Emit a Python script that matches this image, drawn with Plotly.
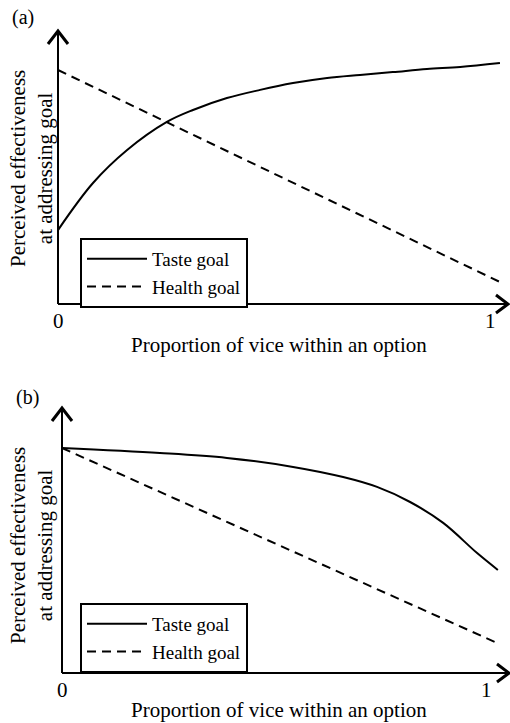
import plotly.graph_objects as go

# ---- data ----
tick_vals = [0, 1]
tick_text = ["0", "1"]

# Panel (a)
a_taste_x = [0.0, 0.081, 0.160, 0.252, 0.3125, 0.391, 0.468, 0.544, 0.623, 0.699, 0.775, 0.854, 0.931, 1.023]
a_taste_y = [0.316, 0.517, 0.658, 0.778, 0.829, 0.880, 0.915, 0.944, 0.966, 0.979, 0.991, 1.004, 1.013, 1.030]
a_health_x = [0.0, 1.023]
a_health_y = [1.0, 0.094]

# Panel (b)
b_taste_x = [0.0, 0.231, 0.389, 0.545, 0.663, 0.743, 0.821, 0.899, 0.979, 1.028]
b_taste_y = [1.0, 0.978, 0.956, 0.916, 0.871, 0.827, 0.760, 0.667, 0.533, 0.458]
b_health_x = [0.0, 1.021]
b_health_y = [1.0, 0.138]

series_names = ["Taste goal", "Health goal"]
panel_labels = ["(a)", "(b)"]
x_title = "Proportion of vice within an option"
y_title = "Perceived effectiveness<br>at addressing goal"

W, H = 510, 723
FONT = "Liberation Serif"


def px(p):
    """reference x-pixel -> paper fraction"""
    return p / W


def py(p):
    """reference y-pixel -> paper fraction"""
    return 1 - p / H


fig = go.Figure()
solid = dict(color="black", width=2, shape="spline", smoothing=1.0)
dashed = dict(color="black", width=2, dash="9px,6px")

fig.add_trace(go.Scatter(x=a_taste_x, y=a_taste_y, mode="lines", line=solid,
                         name=series_names[0], xaxis="x", yaxis="y", legend="legend"))
fig.add_trace(go.Scatter(x=a_health_x, y=a_health_y, mode="lines", line=dashed,
                         name=series_names[1], xaxis="x", yaxis="y", legend="legend"))
fig.add_trace(go.Scatter(x=b_taste_x, y=b_taste_y, mode="lines", line=solid,
                         name=series_names[0], xaxis="x2", yaxis="y2", legend="legend2"))
fig.add_trace(go.Scatter(x=b_health_x, y=b_health_y, mode="lines", line=dashed,
                         name=series_names[1], xaxis="x2", yaxis="y2", legend="legend2"))

split = py(360)
# panel (a): x=0 at px 58, x=1 at px 490 (432 px/unit); y=0 at px 304, 234 px/unit
ax0, asx, ay0, asy = 58, 432, 304, 234
# panel (b): x=0 at px 62, x=1 at px 486 (424 px/unit); y=0 at px 673, 225 px/unit
bx0, bsx, by0, bsy = 62, 424, 673, 225

fig.update_layout(
    width=W, height=H,
    margin=dict(l=0, r=0, t=0, b=0),
    paper_bgcolor="white", plot_bgcolor="rgba(0,0,0,0)",
    font=dict(family=FONT, color="black", size=21),
    xaxis=dict(domain=[0, 1], range=[-ax0 / asx, (W - ax0) / asx], visible=False),
    yaxis=dict(domain=[split, 1], range=[(ay0 - 360) / asy, ay0 / asy], visible=False),
    xaxis2=dict(domain=[0, 1], range=[-bx0 / bsx, (W - bx0) / bsx], visible=False),
    yaxis2=dict(domain=[0, split], range=[(by0 - H) / bsy, (by0 - 360) / bsy], visible=False),
    legend=dict(x=px(80), y=py(238), xanchor="left", yanchor="top",
                bordercolor="black", borderwidth=2, bgcolor="white",
                font=dict(family=FONT, size=19), itemwidth=60, tracegroupgap=0),
    legend2=dict(x=px(80), y=py(603), xanchor="left", yanchor="top",
                 bordercolor="black", borderwidth=2, bgcolor="white",
                 font=dict(family=FONT, size=19), itemwidth=60, tracegroupgap=0),
    showlegend=True,
)

shapes = []
annotations = []
panels = [
    dict(ax=58, ay=304, top=31, right=508, xr="x", lab=(23, 17), yt=169, tick=321, xt=345),
    dict(ax=62, ay=673, top=408, right=509, xr="x2", lab=(27, 397), yt=546, tick=690, xt=713),
]
for i, p in enumerate(panels):
    shapes.append(dict(type="line", xref="paper", yref="paper",
                       x0=px(p["ax"]), y0=py(p["ay"]), x1=px(p["ax"]), y1=py(p["top"]),
                       line=dict(color="black", width=2)))
    shapes.append(dict(type="line", xref="paper", yref="paper",
                       x0=px(p["ax"]), y0=py(p["ay"]), x1=px(p["right"]), y1=py(p["ay"]),
                       line=dict(color="black", width=2)))
    t = p["top"]
    shapes.append(dict(type="path", xref="paper", yref="paper",
                       path=f"M{px(p['ax'] - 10)},{py(t + 13)} L{px(p['ax'])},{py(t)} L{px(p['ax'] + 10)},{py(t + 13)}",
                       line=dict(color="black", width=3)))
    r = p["right"]
    shapes.append(dict(type="path", xref="paper", yref="paper",
                       path=f"M{px(r - 12)},{py(p['ay'] - 9)} L{px(r)},{py(p['ay'])} L{px(r - 12)},{py(p['ay'] + 9)}",
                       line=dict(color="black", width=3)))
    for v, tt in zip(tick_vals, tick_text):
        annotations.append(dict(text=tt, x=v, xref=p["xr"], y=py(p["tick"]), yref="paper",
                                showarrow=False, xanchor="center", yanchor="middle",
                                font=dict(size=21), borderpad=0))
    if i == 0:
        annotations.append(dict(text=x_title, x=px(279), y=py(p["xt"]), xref="paper", yref="paper",
                                showarrow=False, xanchor="center", yanchor="middle",
                                font=dict(size=21), borderpad=0))
    else:
        annotations.append(dict(text=x_title, x=px(279), y=py(723), xref="paper", yref="paper",
                                showarrow=False, xanchor="center", yanchor="bottom",
                                font=dict(size=21), borderpad=0))
    annotations.append(dict(text=y_title, x=px(31), y=py(p["yt"]), xref="paper", yref="paper",
                            showarrow=False, xanchor="center", yanchor="middle", textangle=-90,
                            font=dict(size=21), borderpad=0))
    annotations.append(dict(text=panel_labels[i], x=px(p["lab"][0]), y=py(p["lab"][1]),
                            xref="paper", yref="paper", showarrow=False,
                            xanchor="center", yanchor="middle", font=dict(size=20), borderpad=0))

fig.update_layout(shapes=shapes, annotations=annotations)
# remove the default 8px page margin so the figure fills the window exactly
fig.write_html("out.html", config={"displayModeBar": False},
               post_script="document.body.style.margin='0';")
